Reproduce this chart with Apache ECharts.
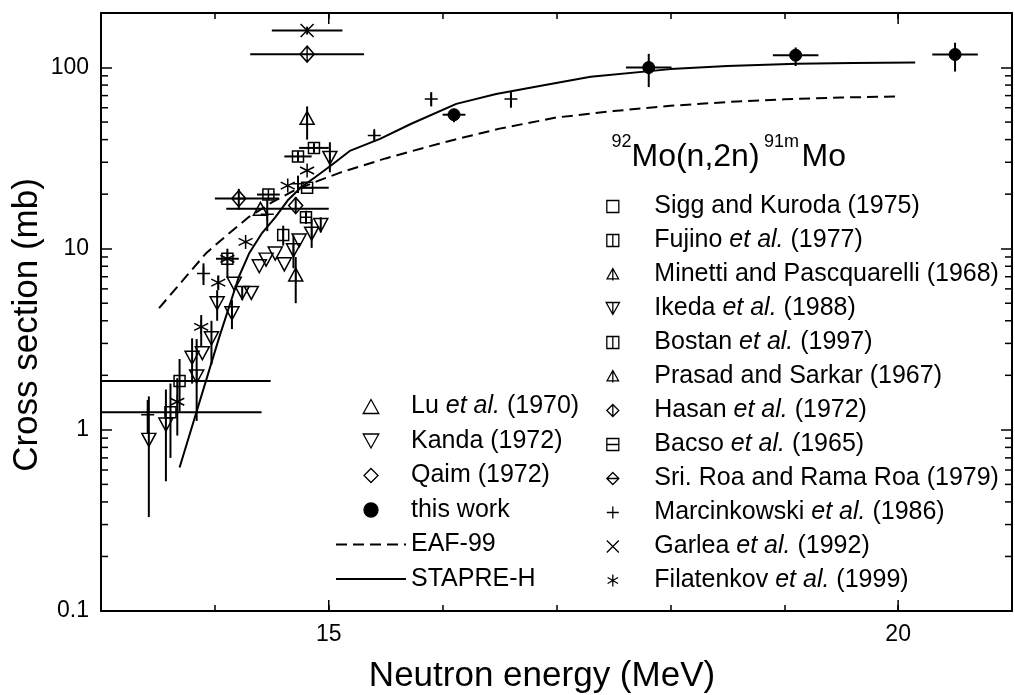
<!DOCTYPE html>
<html>
<head>
<meta charset="utf-8">
<script src="https://cdn.jsdelivr.net/npm/echarts@6/dist/echarts.min.js"></script>
<style>
  html, body { margin: 0; padding: 0; background: #fff; }
  #chart { width: 1015px; height: 695px; }
</style>
</head>
<body>
<div id="chart"></div>
<script>
// Each measurement row: [E (MeV), sigma (mb), dE-, dE+, dSigma-, dSigma+]
const sigg = [[13.69, 1.86, 0.8, 0.8, 0.6, 0.6], [13.61, 1.25, 0.8, 0.8, 0.55, 0.55], [14.11, 8.8, 0.1, 0.1, 1.9, 1.2]];
const fujino = [[14.87, 36.0, 0.13, 0.13, 2, 2], [14.73, 32.3, 0.12, 0.12, 2, 2]];
const minetti = [[14.81, 52, 0, 0, 12, 9]];
const ikeda = [[15.01, 31.7, 0, 0, 5.3, 7], [14.85, 12.1, 0, 0, 2, 2.5], [14.69, 9.8, 0, 0, 2, 2], [14.15, 4.4, 0, 0, 0.8, 0.8], [13.84, 1.97, 0, 0, 0.85, 1.2]];
const bostan = [[14.47, 19.9, 0.1, 0.1, 0, 0], [14.60, 11.9, 0, 0, 1.5, 1.5]];
const prasad = [[14.71, 7.1, 0, 0, 2.1, 1.9]];
const hasan = [[14.81, 118.5, 0.5, 0.5, 0, 0]];
const bacso = [[14.81, 21.7, 0.08, 0.19, 0, 0], [14.80, 14.9, 0, 0, 1.2, 1.3]];
const sriRoa = [[14.21, 18.9, 0.21, 0.35, 2.5, 2.5]];
const marcinkowski = [[16.60, 67, 0, 0, 7, 7], [15.90, 67, 0, 0, 6, 6], [15.40, 42.1, 0, 0, 3, 3], [14.73, 22.8, 0, 0, 2.5, 2.5], [14.46, 15.5, 0, 0, 3, 3], [13.90, 7.3, 0, 0, 1, 1], [13.41, 1.21, 0, 0, 0.25, 0.25]];
const garlea = [[14.81, 160, 0.31, 0.31, 8, 8]];
const filatenkov = [[14.81, 27.0, 0, 0, 0, 0], [14.64, 22.3, 0, 0, 0, 0], [14.27, 10.9, 0, 0, 0, 0], [14.11, 8.8, 0, 0, 0, 0], [14.03, 6.5, 0, 0, 0.6, 0.6], [13.88, 3.7, 0, 0, 0.8, 0.6], [13.67, 1.43, 0, 0, 0.5, 0.5]];
const lu = [[14.40, 16.6, 0.3, 0.6, 0, 0]];
const kanda = [[14.93, 13.5, 0, 0, 1.2, 1.4], [14.74, 11.1, 0, 0, 0, 0], [14.53, 9.4, 0, 0, 0, 0], [14.61, 8.2, 0, 0, 0, 0], [14.45, 8.7, 0, 0, 0, 0], [14.39, 8.0, 0, 0, 0, 0], [14.17, 6.4, 0, 0, 0, 0], [14.24, 5.7, 0, 0, 0.5, 0.5], [14.32, 5.7, 0, 0, 0, 0], [14.02, 5.0, 0, 0, 1, 0.9], [13.97, 3.2, 0, 0, 0.9, 0.8], [13.89, 2.65, 0, 0, 0, 0], [13.80, 2.5, 0, 0, 0.7, 0.7], [13.57, 1.07, 0, 0, 0.55, 0.6], [13.42, 0.88, 0, 0, 0.55, 0.65]];
const qaim = [[14.71, 17.3, 0, 0, 1.5, 2]];
const thisWork = [[16.10, 54.9, 0.1, 0.1, 5, 4], [17.81, 100, 0.2, 0.2, 22, 19], [19.10, 117, 0.2, 0.2, 15, 12], [20.50, 118, 0.2, 0.2, 23, 19]];

// Evaluated excitation functions: [E (MeV), sigma (mb)]
const eaf99 = [[13.51, 4.7], [13.72, 6.7], [13.92, 9.4], [14.10, 11.8], [14.30, 15.0], [14.50, 18.0], [14.70, 21.0], [14.90, 23.6], [15.10, 26.3], [15.50, 31.5], [16.00, 38.5], [16.50, 46], [17.00, 53], [17.50, 57.5], [18.00, 61.5], [18.50, 64.5], [19.00, 66.8], [19.50, 68.3], [20.00, 69.3]];
const stapreH = [[13.69, 0.62], [14.04, 3.27], [14.21, 6.98], [14.30, 9.4], [14.41, 12.1], [14.53, 14.9], [14.64, 18.5], [14.76, 21.9], [14.88, 24.8], [15.02, 28.8], [15.19, 34.8], [15.45, 40.4], [15.72, 48.8], [16.12, 63], [16.47, 71.4], [16.90, 80], [17.30, 88.9], [18.00, 98], [18.50, 102], [19.11, 105], [19.60, 106], [20.15, 106.5]];

// Axis ticks
const xLabelTicks = [15, 20];
const yLabelTicks = [0.1, 1, 10, 100];
const yMinorTicks = [0.2, 0.3, 0.4, 0.5, 0.6, 0.7, 0.8, 0.9, 2, 3, 4, 5, 6, 7, 8, 9, 20, 30, 40, 50, 60, 70, 80, 90];

const FONT = '"Liberation Sans", Arial, Helvetica, sans-serif';

// Outline symbols (drawn as strokes, unfilled)
const SYM = {
  square: 'path://M0,0H10V10H0Z',
  squareV: 'path://M0,0H10V10H0ZM5,0V10',
  squareH: 'path://M0,0H10V10H0ZM0,5H10',
  tri: 'path://M5,0L10,9L0,9Z',
  triV: 'path://M5,0L10,9L0,9ZM5,0V10.5',
  dtri: 'path://M0,0H10L5,9Z',
  dtriV: 'path://M0,0H10L5,9ZM5,0V9',
  dia: 'path://M5,0L10,5L5,10L0,5Z',
  diaV: 'path://M5,0L10,5L5,10L0,5ZM5,0V10',
  diaH: 'path://M5,0L10,5L5,10L0,5ZM0,5H10',
  plus: 'path://M5,0V10M0,5H10',
  cross: 'path://M0,0L10,10M10,0L0,10',
  star: 'path://M5,0V10M0.67,2.5L9.33,7.5M0.67,7.5L9.33,2.5'
};

const groups = [
  { name: 'Sigg and Kuroda (1975)', rows: sigg, symbol: SYM.square, size: 11 },
  { name: 'Fujino et al. (1977)', rows: fujino, symbol: SYM.squareV, size: 11 },
  { name: 'Minetti and Pascquarelli (1968)', rows: minetti, symbol: SYM.triV, size: [14, 15] },
  { name: 'Ikeda et al. (1988)', rows: ikeda, symbol: SYM.dtriV, size: [14, 13] },
  { name: 'Bostan et al. (1997)', rows: bostan, symbol: SYM.squareV, size: 11 },
  { name: 'Prasad and Sarkar (1967)', rows: prasad, symbol: SYM.triV, size: [14, 15] },
  { name: 'Hasan et al. (1972)', rows: hasan, symbol: SYM.diaV, size: [14, 16] },
  { name: 'Bacso et al. (1965)', rows: bacso, symbol: SYM.squareH, size: 11 },
  { name: 'Sri. Roa and Rama Roa (1979)', rows: sriRoa, symbol: SYM.diaH, size: [14, 16] },
  { name: 'Marcinkowski et al. (1986)', rows: marcinkowski, symbol: SYM.plus, size: 13 },
  { name: 'Garlea et al. (1992)', rows: garlea, symbol: SYM.cross, size: 13 },
  { name: 'Filatenkov et al. (1999)', rows: filatenkov, symbol: SYM.star, size: 14 },
  { name: 'Lu et al. (1970)', rows: lu, symbol: SYM.tri, size: [14, 13] },
  { name: 'Kanda (1972)', rows: kanda, symbol: SYM.dtri, size: [14, 13] },
  { name: 'Qaim (1972)', rows: qaim, symbol: SYM.dia, size: [14, 16] }
];

const scatterSeries = groups.map(g => ({
  type: 'scatter',
  name: g.name,
  data: g.rows.map(r => [r[0], r[1]]),
  symbol: g.symbol,
  symbolSize: g.size,
  itemStyle: { color: 'transparent', borderColor: '#000', borderWidth: 1.5, opacity: 1 },
  z: 4
}));

// Error bars for every measured point
const errorRows = [];
groups.concat([{ rows: thisWork }]).forEach(g => {
  g.rows.forEach(r => {
    errorRows.push([r[0], r[1], r[0] - r[2], r[0] + r[3], r[1] - r[4], r[1] + r[5]]);
  });
});

function renderErrorBar(params, api) {
  const e = api.value(0), s = api.value(1);
  const elo = api.value(2), ehi = api.value(3), slo = api.value(4), shi = api.value(5);
  const children = [];
  const st = { stroke: '#000', lineWidth: 2 };
  if (ehi > elo) {
    const a = api.coord([elo, s]), b = api.coord([ehi, s]);
    children.push({ type: 'line', shape: { x1: a[0], y1: a[1], x2: b[0], y2: b[1] }, style: st });
  }
  if (shi > slo) {
    const a = api.coord([e, slo]), b = api.coord([e, shi]);
    children.push({ type: 'line', shape: { x1: a[0], y1: a[1], x2: b[0], y2: b[1] }, style: st });
  }
  return { type: 'group', children };
}

// Minor log ticks on the left and right frame
function renderYMinor(params, api) {
  const cs = params.coordSys;
  const y = api.coord([15, api.value(1)])[1];
  const st = { stroke: '#000', lineWidth: 1.5 };
  return {
    type: 'group',
    children: [
      { type: 'line', shape: { x1: cs.x, y1: y, x2: cs.x + 7, y2: y }, style: st },
      { type: 'line', shape: { x1: cs.x + cs.width - 7, y1: y, x2: cs.x + cs.width, y2: y }, style: st }
    ]
  };
}

// Longer ticks at the labelled energies, bottom and top frame
function renderXMajor(params, api) {
  const cs = params.coordSys;
  const x = api.coord([api.value(0), 1])[0];
  const st = { stroke: '#000', lineWidth: 1.5 };
  return {
    type: 'group',
    children: [
      { type: 'line', shape: { x1: x, y1: cs.y + cs.height, x2: x, y2: cs.y + cs.height - 11 }, style: st },
      { type: 'line', shape: { x1: x, y1: cs.y, x2: x, y2: cs.y + 11 }, style: st }
    ]
  };
}

function isLabelTick(list, v) {
  return list.some(t => Math.abs(v - t) / t < 1e-6);
}

const legendText = {
  fontSize: 25, fontFamily: FONT, color: '#000',
  rich: { i: { fontSize: 25, fontFamily: FONT, fontStyle: 'italic', color: '#000' } }
};
const legendFormatter = name => name.replace('et al.', '{i|et al.}');

const option = {
  animation: false,
  backgroundColor: '#fff',
  textStyle: { fontFamily: FONT },
  grid: { left: 101, top: 13, width: 920, height: 598, containLabel: false },
  xAxis: [
    {
      type: 'value', min: 13, max: 21, interval: 1, position: 'bottom',
      axisLine: { show: true, onZero: false, lineStyle: { color: '#000', width: 2 } },
      axisTick: { show: true, inside: true, length: 6, lineStyle: { color: '#000', width: 1.5 } },
      axisLabel: {
        margin: 12, fontSize: 23, color: '#000', fontFamily: FONT,
        formatter: v => (isLabelTick(xLabelTicks, v) ? String(v) : '')
      },
      splitLine: { show: false }
    },
    {
      type: 'value', min: 13, max: 21, interval: 1, position: 'top',
      axisLine: { show: true, onZero: false, lineStyle: { color: '#000', width: 2 } },
      axisTick: { show: true, inside: true, length: 6, lineStyle: { color: '#000', width: 1.5 } },
      axisLabel: { show: false },
      splitLine: { show: false }
    }
  ],
  yAxis: [
    {
      type: 'log', logBase: 10, min: 0.1, max: 200, position: 'left',
      axisLine: { show: true, onZero: false, lineStyle: { color: '#000', width: 2 } },
      axisTick: { show: true, inside: true, length: 11, lineStyle: { color: '#000', width: 1.5 } },
      axisLabel: {
        margin: 12, fontSize: 23, color: '#000', fontFamily: FONT,
        formatter: v => (isLabelTick(yLabelTicks, v) ? String(+(+v).toPrecision(3)) : '')
      },
      splitLine: { show: false }
    },
    {
      type: 'log', logBase: 10, min: 0.1, max: 200, position: 'right',
      axisLine: { show: true, onZero: false, lineStyle: { color: '#000', width: 2 } },
      axisTick: { show: true, inside: true, length: 11, lineStyle: { color: '#000', width: 1.5 } },
      axisLabel: { show: false },
      splitLine: { show: false }
    }
  ],
  legend: [
    {
      // positioned by the left edge of the widest symbol in the icon column
      orient: 'vertical', left: 605.5, top: 194, padding: 0, itemGap: 9,
      itemWidth: 73, itemHeight: 12, selectedMode: false, symbolKeepAspect: true,
      itemStyle: { borderWidth: 1.3 },
      textStyle: legendText, formatter: legendFormatter,
      data: groups.slice(0, 12).map(g => g.name)
    },
    {
      orient: 'vertical', left: 335, top: 394, padding: 0, itemGap: 9.5,
      itemWidth: 70, itemHeight: 14, selectedMode: false, symbolKeepAspect: true,
      itemStyle: { borderWidth: 1.3 },
      textStyle: legendText, formatter: legendFormatter,
      data: [
        'Lu et al. (1970)', 'Kanda (1972)', 'Qaim (1972)', 'this work',
        { name: 'EAF-99', icon: 'line', itemStyle: { color: '#000', borderColor: '#000', borderWidth: 2, borderType: [11, 6] } },
        { name: 'STAPRE-H', icon: 'line', itemStyle: { color: '#000', borderColor: '#000', borderWidth: 2, borderType: 'solid' } }
      ]
    }
  ],
  graphic: [
    { type: 'text', x: 27, y: 325, rotation: Math.PI / 2,
      style: { text: 'Cross section (mb)', font: '35px ' + FONT, fill: '#000', align: 'center', verticalAlign: 'middle' } },
    { type: 'text', x: 542, y: 676,
      style: { text: 'Neutron energy (MeV)', font: '35px ' + FONT, fill: '#000', align: 'center', verticalAlign: 'middle' } },
    { type: 'text', x: 611.5, y: 142.5,
      style: { text: '92', font: '18px ' + FONT, fill: '#000', align: 'left', verticalAlign: 'middle' } },
    { type: 'text', x: 631.5, y: 157.5,
      style: { text: 'Mo(n,2n)', font: '32px ' + FONT, fill: '#000', align: 'left', verticalAlign: 'middle' } },
    { type: 'text', x: 764, y: 142.5,
      style: { text: '91m', font: '18px ' + FONT, fill: '#000', align: 'left', verticalAlign: 'middle' } },
    { type: 'text', x: 801.5, y: 157.5,
      style: { text: 'Mo', font: '32px ' + FONT, fill: '#000', align: 'left', verticalAlign: 'middle' } }
  ],
  series: scatterSeries.concat([
    {
      type: 'scatter', name: 'this work',
      data: thisWork.map(r => [r[0], r[1]]),
      symbol: 'circle', symbolSize: 12,
      itemStyle: { color: '#000', borderColor: '#000', borderWidth: 1, opacity: 1 },
      z: 5
    },
    {
      type: 'line', name: 'EAF-99', data: eaf99, symbol: 'none', showSymbol: false,
      lineStyle: { color: '#000', width: 2, type: [11, 6] }, itemStyle: { color: '#000' }, z: 3
    },
    {
      type: 'line', name: 'STAPRE-H', data: stapreH, symbol: 'none', showSymbol: false,
      lineStyle: { color: '#000', width: 2, type: 'solid' }, itemStyle: { color: '#000' }, z: 3
    },
    {
      type: 'custom', name: 'errors', data: errorRows, renderItem: renderErrorBar,
      encode: { x: 0, y: 1 }, clip: true, silent: true, z: 2
    },
    {
      type: 'custom', name: 'yMinorTicks', data: yMinorTicks.map(v => [15, v]),
      renderItem: renderYMinor, encode: { x: 0, y: 1 }, silent: true, z: 6
    },
    {
      type: 'custom', name: 'xMajorTicks', data: xLabelTicks.map(v => [v, 1]),
      renderItem: renderXMajor, encode: { x: 0, y: 1 }, silent: true, z: 6
    }
  ])
};

const chart = echarts.init(document.getElementById('chart'), null, { renderer: 'canvas' });
chart.setOption(option);
</script>
</body>
</html>
